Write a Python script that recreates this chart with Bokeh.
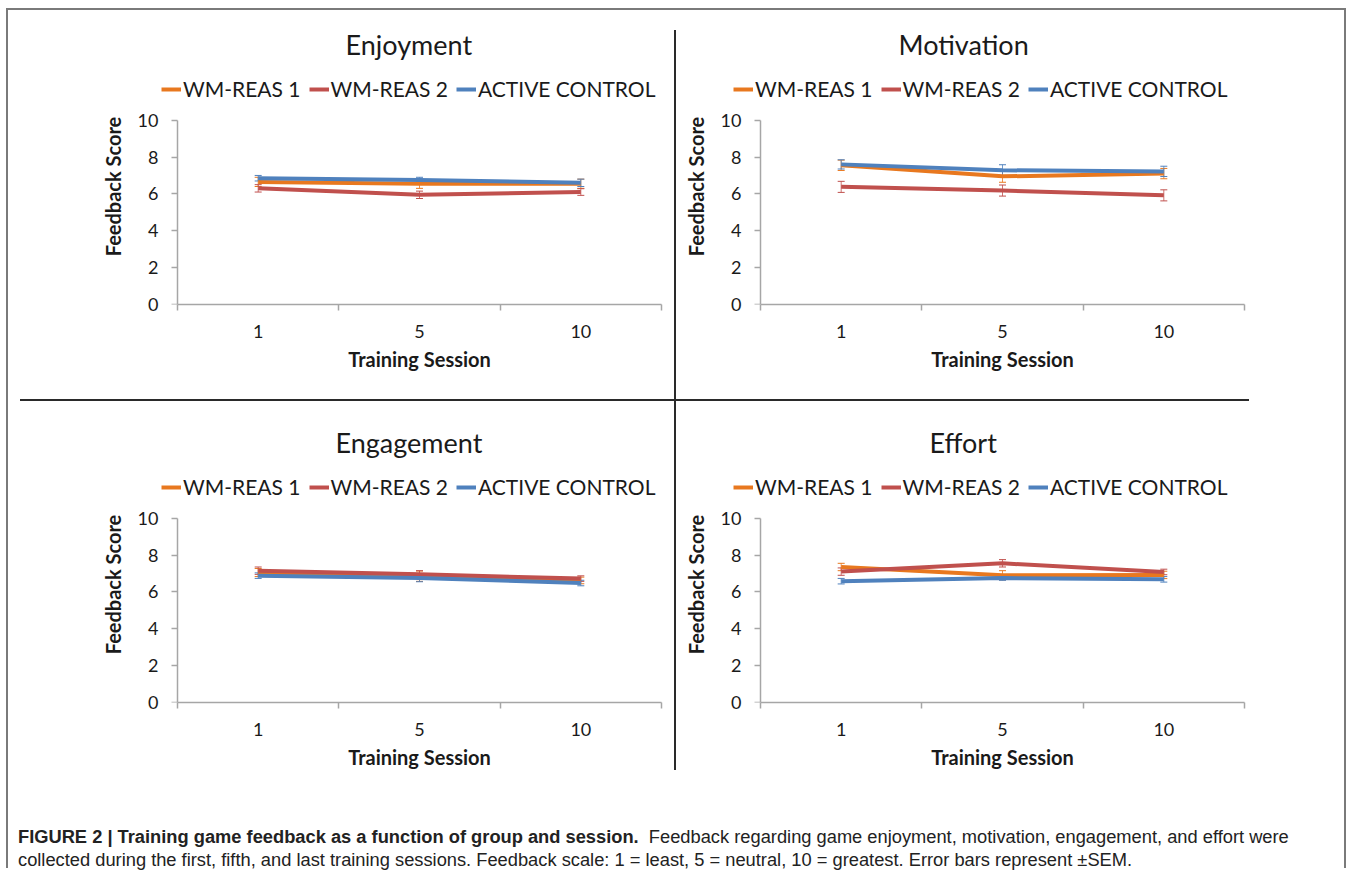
from bokeh.plotting import figure
from bokeh.models import (ColumnDataSource, FactorRange, Range1d, LinearAxis, FixedTicker,
                          CustomJSTickFormatter, Legend, LegendItem,
                          Whisker, TeeHead, Div)
from bokeh.layouts import column, row
from bokeh.embed import file_html
from bokeh.resources import INLINE
import numpy as np

# ---------------- data ----------------
sessions = ["1", "5", "10"]
groups = ["WM-REAS 1", "WM-REAS 2", "ACTIVE CONTROL"]
colors = ["#E8781F", "#C0504D", "#4F81BD"]

enjoy_wm1 = [6.65, 6.55, 6.55]
enjoy_wm2 = [6.30, 5.95, 6.10]
enjoy_ac = [6.85, 6.75, 6.60]
enjoy_wm1_sem = [0.25, 0.25, 0.25]
enjoy_wm2_sem = [0.20, 0.20, 0.18]
enjoy_ac_sem = [0.15, 0.15, 0.20]

motiv_wm1 = [7.55, 6.95, 7.10]
motiv_wm2 = [6.38, 6.18, 5.92]
motiv_ac = [7.60, 7.28, 7.22]
motiv_wm1_sem = [0.28, 0.32, 0.28]
motiv_wm2_sem = [0.30, 0.30, 0.30]
motiv_ac_sem = [0.25, 0.30, 0.28]

engage_wm1 = [7.05, 6.85, 6.62]
engage_wm2 = [7.15, 6.95, 6.72]
engage_ac = [6.88, 6.75, 6.48]
engage_wm1_sem = [0.22, 0.28, 0.18]
engage_wm2_sem = [0.20, 0.20, 0.15]
engage_ac_sem = [0.15, 0.20, 0.15]

effort_wm1 = [7.35, 6.90, 6.92]
effort_wm2 = [7.10, 7.55, 7.08]
effort_ac = [6.58, 6.75, 6.68]
effort_wm1_sem = [0.20, 0.25, 0.20]
effort_wm2_sem = [0.20, 0.20, 0.15]
effort_ac_sem = [0.15, 0.12, 0.15]

y_ticks = [0, 2, 4, 6, 8, 10]
Y_MAX = 10          # top of the value axis
Y_ROOM = 12.8       # extra room above the axis for the legend row

FONT = "Lato"
TXT = "#1a1a1a"
AXIS_C = "#a6a6a6"
CAT_PX = 161.2      # pixel width of one session category


def make_panel(title, means, sems, pad_px, mbl, mbr, mbt, mbb, title_x, lab_standoff):
    n = len(sessions)
    pad = pad_px / CAT_PX
    fw = int(round(CAT_PX * (n + 2 * pad)))
    p = figure(frame_width=fw, frame_height=236,
               x_range=FactorRange(factors=sessions, range_padding=pad,
                                   range_padding_units="absolute"),
               y_range=Range1d(0, Y_ROOM),
               x_axis_type=None,
               toolbar_location=None, output_backend="svg",
               min_border_left=mbl, min_border_right=mbr,
               min_border_top=mbt, min_border_bottom=mbb)
    p.title.text = title
    p.title.align = "left"
    p.title.offset = title_x
    p.title.text_font = FONT
    p.title.text_font_size = "27px"
    p.title.text_font_style = "normal"
    p.title.text_color = TXT
    p.title.standoff = 15
    p.border_fill_color = None
    p.background_fill_color = None
    p.outline_line_color = None
    p.grid.grid_line_color = None

    # y axis labels (panel axis at the frame edge; its rule is hidden)
    ya = p.yaxis[0]
    ya.bounds = (0, Y_MAX)
    ya.ticker = FixedTicker(ticks=y_ticks)
    ya.axis_line_color = None
    ya.major_tick_line_color = None
    ya.major_tick_out = 0
    ya.major_tick_in = 0
    ya.minor_tick_line_color = None
    ya.major_label_text_font = FONT
    ya.major_label_text_font_size = "18px"
    ya.major_label_text_color = TXT
    ya.major_label_standoff = lab_standoff
    ya.axis_label = "Feedback Score"
    ya.axis_label_text_font = FONT
    ya.axis_label_text_font_size = "20px"
    ya.axis_label_text_font_style = "bold"
    ya.axis_label_text_color = TXT
    ya.axis_label_standoff = 10

    # y axis rule and ticks, pinned at the left edge of the first session
    yr = LinearAxis(fixed_location=0, bounds=(0, Y_MAX),
                    ticker=FixedTicker(ticks=y_ticks),
                    formatter=CustomJSTickFormatter(code="return '';"))
    yr.axis_line_color = AXIS_C
    yr.axis_line_width = 1.5
    yr.major_tick_line_color = AXIS_C
    yr.major_tick_line_width = 1.5
    yr.major_tick_out = 6
    yr.major_tick_in = 0
    yr.minor_tick_line_color = None
    yr.major_label_standoff = 0
    yr.major_label_text_font_size = "1px"
    yr.major_label_text_alpha = 0
    p.add_layout(yr, "left")

    # x axis: category labels centred, tick marks at category boundaries
    xa = LinearAxis(
        bounds=(0, n),
        ticker=FixedTicker(ticks=[i + 0.5 for i in range(n)],
                           minor_ticks=[float(i) for i in range(n + 1)]),
        formatter=CustomJSTickFormatter(args=dict(labels=sessions),
                                        code="return labels[Math.floor(tick)];"))
    xa.axis_line_color = AXIS_C
    xa.axis_line_width = 1.5
    xa.major_tick_line_color = None
    xa.major_tick_out = 0
    xa.minor_tick_line_color = AXIS_C
    xa.minor_tick_line_width = 1.5
    xa.minor_tick_out = 6
    xa.minor_tick_in = 0
    xa.major_label_text_font = FONT
    xa.major_label_text_font_size = "18px"
    xa.major_label_text_color = TXT
    xa.major_label_standoff = 14
    xa.axis_label = "Training Session"
    xa.axis_label_text_font = FONT
    xa.axis_label_text_font_size = "20px"
    xa.axis_label_text_font_style = "bold"
    xa.axis_label_text_color = TXT
    xa.axis_label_standoff = 6
    p.add_layout(xa, "below")

    items = []
    for g, c, m, s in zip(groups, colors, means, sems):
        m = np.array(m)
        s = np.array(s)
        src = ColumnDataSource(dict(x=sessions, y=m, upper=m + s, lower=m - s))
        r = p.line("x", "y", source=src, line_color=c, line_width=4)
        w = Whisker(source=src, base="x", upper="upper", lower="lower",
                    line_color=c, line_width=1, line_alpha=0.8,
                    upper_head=TeeHead(size=7, line_color=c, line_width=1),
                    lower_head=TeeHead(size=7, line_color=c, line_width=1))
        p.add_layout(w)
        items.append(LegendItem(label=g, renderers=[r]))

    leg = Legend(items=items, orientation="horizontal", location=(0, 203),
                 label_text_font=FONT, label_text_font_size="21px",
                 label_text_color=TXT, glyph_width=20, glyph_height=20,
                 label_standoff=2, spacing=8, padding=0, margin=0,
                 background_fill_alpha=0, border_line_color=None)
    p.add_layout(leg)
    return p


# left column: frame from x=161 (axis at 177); right column: frame from x=733 (axis at 760)
tl = make_panel("Enjoyment", [enjoy_wm1, enjoy_wm2, enjoy_ac],
                [enjoy_wm1_sem, enjoy_wm2_sem, enjoy_ac_sem],
                16, 161, 0, 68, 96, 184, 3)
tr = make_panel("Motivation", [motiv_wm1, motiv_wm2, motiv_ac],
                [motiv_wm1_sem, motiv_wm2_sem, motiv_ac_sem],
                27, 56, 76, 68, 96, 165, -8)
bl = make_panel("Engagement", [engage_wm1, engage_wm2, engage_ac],
                [engage_wm1_sem, engage_wm2_sem, engage_ac_sem],
                16, 161, 0, 66, 76, 174, 3)
br = make_panel("Effort", [effort_wm1, effort_wm2, effort_ac],
                [effort_wm1_sem, effort_wm2_sem, effort_ac_sem],
                27, 56, 76, 66, 76, 196, -8)

TOTAL_W = 1346
CAP_H = 90
TOTAL_H = 400 + 378 + CAP_H

caption_html = (
    '<div style="padding:42px 0 0 13px; font-family:\'Liberation Sans\', Arial, sans-serif; '
    'font-size:18.3px; line-height:23px; color:#222; white-space:nowrap;">'
    '<b>FIGURE 2 | Training game feedback as a function of group and session.</b>'
    '&nbsp; Feedback regarding game enjoyment, motivation, engagement, and effort were<br>'
    'collected during the first, fifth, and last training sessions. Feedback scale: '
    '1 = least, 5 = neutral, 10 = greatest. Error bars represent \u00b1SEM.</div>'
)
caption = Div(text=caption_html, width=TOTAL_W, height=CAP_H)

frame_css = {
    "background-image": ", ".join(["linear-gradient(#7a7a7a,#7a7a7a)"] * 3 +
                                  ["linear-gradient(#2a2a2a,#2a2a2a)"] * 2),
    "background-size": (f"{TOTAL_W - 6}px 2px, 2px {TOTAL_H - 8}px, 2px {TOTAL_H - 8}px, "
                        f"2px 740px, 1229px 2px"),
    "background-position": (f"6px 8px, 6px 8px, {TOTAL_W - 2}px 8px, "
                            f"674px 30px, 20px 399px"),
    "background-repeat": "no-repeat",
}

layout = column(row(tl, tr), row(bl, br), caption, styles=frame_css)

open("out.html", "w").write(file_html(layout, INLINE))
